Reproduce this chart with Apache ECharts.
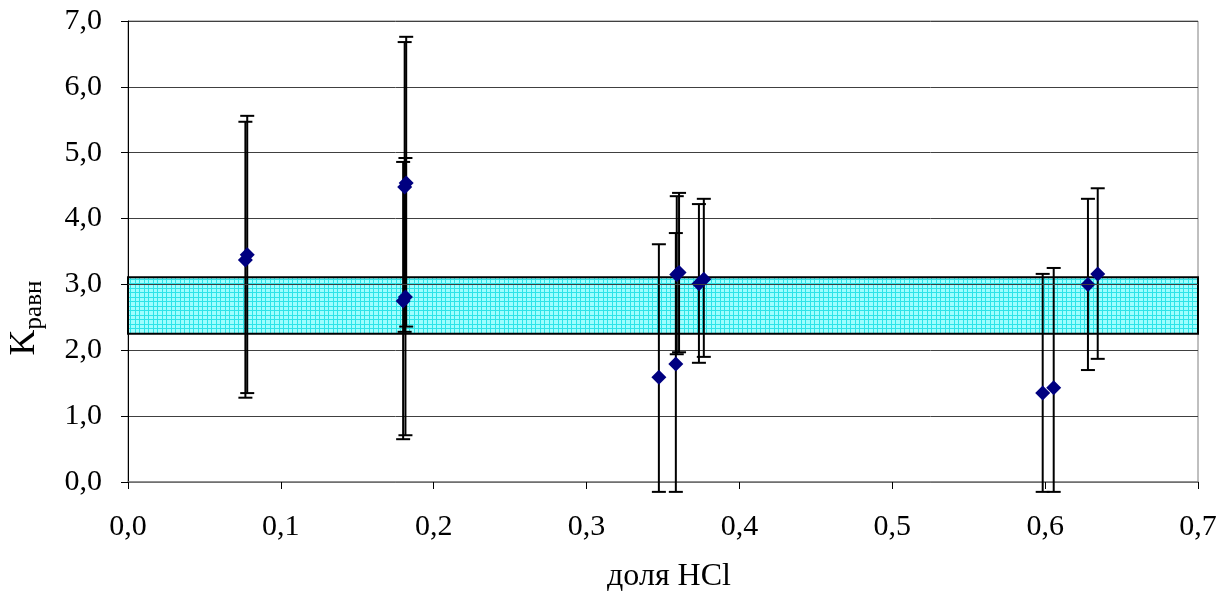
<!DOCTYPE html>
<html>
<head>
<meta charset="utf-8">
<script src="https://cdn.jsdelivr.net/npm/echarts@6/dist/echarts.min.js"></script>
<style>
html,body{margin:0;padding:0;background:#fff;}
#chart{width:1218px;height:592px;}
</style>
</head>
<body>
<div id="chart"></div>
<script>
// Data
const xVals   = [0.0768, 0.0780, 0.1800, 0.1815, 0.1810, 0.1820, 0.3473, 0.3584, 0.3590, 0.3605, 0.3735, 0.3767, 0.5984, 0.6056, 0.6280, 0.6344];
const yVals   = [3.37,   3.45,   2.75,   2.81,   4.48,   4.54,   1.59,   1.79,   3.15,   3.18,   3.01,   3.08,   1.35,   1.43,   3.00,   3.16];
const errHigh = [5.47,   5.56,   4.86,   4.92,   6.68,   6.76,   3.61,   3.78,   4.34,   4.39,   4.22,   4.30,   3.16,   3.25,   4.30,   4.46];
const errLow  = [1.28,   1.35,   0.65,   0.71,   2.28,   2.36,  -0.15,  -0.15,   1.94,   1.97,   1.81,   1.90,  -0.15,  -0.15,   1.70,   1.87];
const bandLow = 2.25;
const bandHigh = 3.11;
const xTicks = {min: 0, max: 0.7, interval: 0.1};
const yTicks = {min: 0, max: 7, interval: 1};

const serif = 'Liberation Serif';
const fmt = v => v.toFixed(1).replace('.', ',');

// pattern for band
const pc = document.createElement('canvas');
pc.width = 9; pc.height = 9;
const g = pc.getContext('2d');
g.fillStyle = '#a0fefe';
g.fillRect(0,0,9,9);
g.fillStyle = '#2ee4e8';
g.fillRect(0,0,9,1); g.fillRect(0,4,9,1);
g.fillRect(0,0,1,9); g.fillRect(4,0,1,9);

const chart = echarts.init(document.getElementById('chart'), null, {renderer:'canvas'});
chart.setOption({
  animation: false,
  backgroundColor: '#fff',
  grid: {left: 128, right: 20, top: 21, bottom: 110, containLabel: false, outerBoundsMode: 'none',
         show: true, borderColor: '#808080', borderWidth: 1, backgroundColor: '#fff'},
  xAxis: {
    type: 'value', min: xTicks.min, max: xTicks.max, interval: xTicks.interval,
    name: 'доля HCl', nameLocation: 'middle', nameGap: 79,
    nameTextStyle: {fontFamily: serif, fontSize: 32, color: '#000', padding: [0,0,0,12]},
    axisLine: {show: true, lineStyle: {color: '#808080', width: 1.5}},
    axisTick: {show: true, length: 7, lineStyle: {color: '#000'}},
    axisLabel: {formatter: fmt, fontFamily: serif, fontSize: 30, color: '#000', margin: 30},
    splitLine: {show: false}
  },
  yAxis: {
    type: 'value', min: yTicks.min, max: yTicks.max, interval: yTicks.interval,
    axisLine: {show: true, lineStyle: {color: '#000', width: 1}},
    axisTick: {show: true, length: 7, lineStyle: {color: '#000'}},
    axisLabel: {formatter: fmt, fontFamily: serif, fontSize: 30, color: '#000', margin: 26},
    splitLine: {show: true, lineStyle: {color: '#404040', width: 1}}
  },
  graphic: [{
    type: 'text', x: 25, y: 318, rotation: Math.PI/2,
    style: {
      text: '{k|K}{s|равн}',
      align: 'center', verticalAlign: 'middle',
      rich: {
        k: {fontFamily: serif, fontSize: 36, fill: '#000', color: '#000'},
        s: {fontFamily: serif, fontSize: 25, fill: '#000', color: '#000', padding: [18,0,0,0]}
      }
    }
  }],
  series: [
    {
      type: 'line', data: [], z: 1, silent: true,
      markArea: {
        silent: true,
        itemStyle: {color: {image: pc, repeat: 'repeat'}, borderColor: '#000', borderWidth: 2, opacity: 1},
        data: [[{yAxis: bandLow}, {yAxis: bandHigh}]]
      },
      markLine: {
        silent: true, symbol: 'none', label: {show: false},
        lineStyle: {color: '#404040', width: 1, type: 'solid'},
        data: [{yAxis: 3}]
      }
    },
    {
      type: 'custom', z: 3,
      data: xVals.map((x,i) => [x, yVals[i], errLow[i], errHigh[i]]),
      encode: {x: 0, y: [2,3]},
      renderItem: function(params, api) {
        const x = api.value(0);
        const pHi = api.coord([x, api.value(3)]);
        const pLo = api.coord([x, api.value(2)]);
        const hw = 7;
        const st = {stroke: '#000', lineWidth: 2};
        return {type: 'group', children: [
          {type: 'line', shape: {x1: pHi[0], y1: pHi[1], x2: pLo[0], y2: pLo[1]}, style: st},
          {type: 'line', shape: {x1: pHi[0]-hw, y1: pHi[1], x2: pHi[0]+hw, y2: pHi[1]}, style: st},
          {type: 'line', shape: {x1: pLo[0]-hw, y1: pLo[1], x2: pLo[0]+hw, y2: pLo[1]}, style: st}
        ]};
      }
    },
    {
      type: 'scatter', z: 4, symbol: 'diamond', symbolSize: 15,
      itemStyle: {color: '#000080', opacity: 1},
      data: xVals.map((x,i) => [x, yVals[i]])
    }
  ]
});
</script>
</body>
</html>
